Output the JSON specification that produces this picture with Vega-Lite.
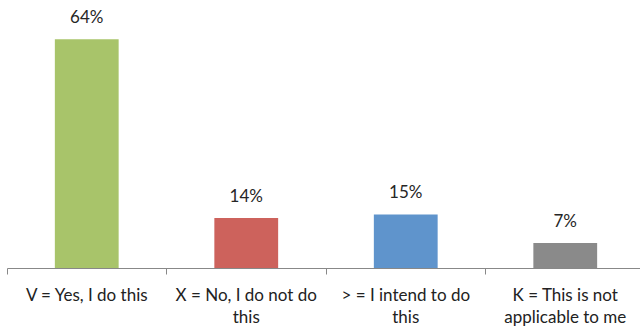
{
  "$schema": "https://vega.github.io/schema/vega-lite/v6.json",
  "width": 638,
  "height": 268,
  "autosize": {"type": "none"},
  "padding": {"left": 7, "top": 0, "right": 0, "bottom": 61},
  "background": "white",
  "config": {"view": {"stroke": null}},
  "data": {
    "values": [
      {"cat": "V = Yes, I do this", "value": 64, "label": "64%", "color": "g"},
      {"cat": "X = No, I do not do|this", "value": 14, "label": "14%", "color": "r"},
      {"cat": ">= I intend to do|this", "value": 15, "label": "15%", "color": "b"},
      {"cat": "K = This is not|applicable to me", "value": 7, "label": "7%", "color": "k"}
    ]
  },
  "encoding": {
    "x": {
      "field": "cat",
      "type": "nominal",
      "sort": null,
      "scale": {"paddingInner": 0, "paddingOuter": 0},
      "axis": {
        "title": null,
        "labelAngle": 0,
        "labelExpr": "split(replace(datum.label, '>= ', '> = '), '|')",
        "labelFont": "Lato",
        "labelFontSize": 17,
        "labelColor": "#222222",
        "labelPadding": 13,
        "labelLineHeight": 22,
        "labelBaseline": "top",
        "domainColor": "#888888",
        "tickColor": "#888888",
        "tickSize": 6,
        "bandPosition": 0,
        "ticks": true
      }
    },
    "y": {
      "field": "value",
      "type": "quantitative",
      "scale": {"domain": [0, 75]},
      "axis": null
    }
  },
  "layer": [
    {
      "mark": {"type": "bar", "width": {"band": 0.4}},
      "encoding": {
        "color": {
          "field": "color",
          "type": "nominal",
          "scale": {"domain": ["g", "r", "b", "k"], "range": ["#A8C46A", "#CD625C", "#5F94CC", "#8A8A8A"]},
          "legend": null
        }
      }
    },
    {
      "mark": {"type": "text", "font": "Lato", "fontSize": 17, "color": "#262626", "dy": -12, "baseline": "bottom"},
      "encoding": {"text": {"field": "label"}}
    }
  ]
}
